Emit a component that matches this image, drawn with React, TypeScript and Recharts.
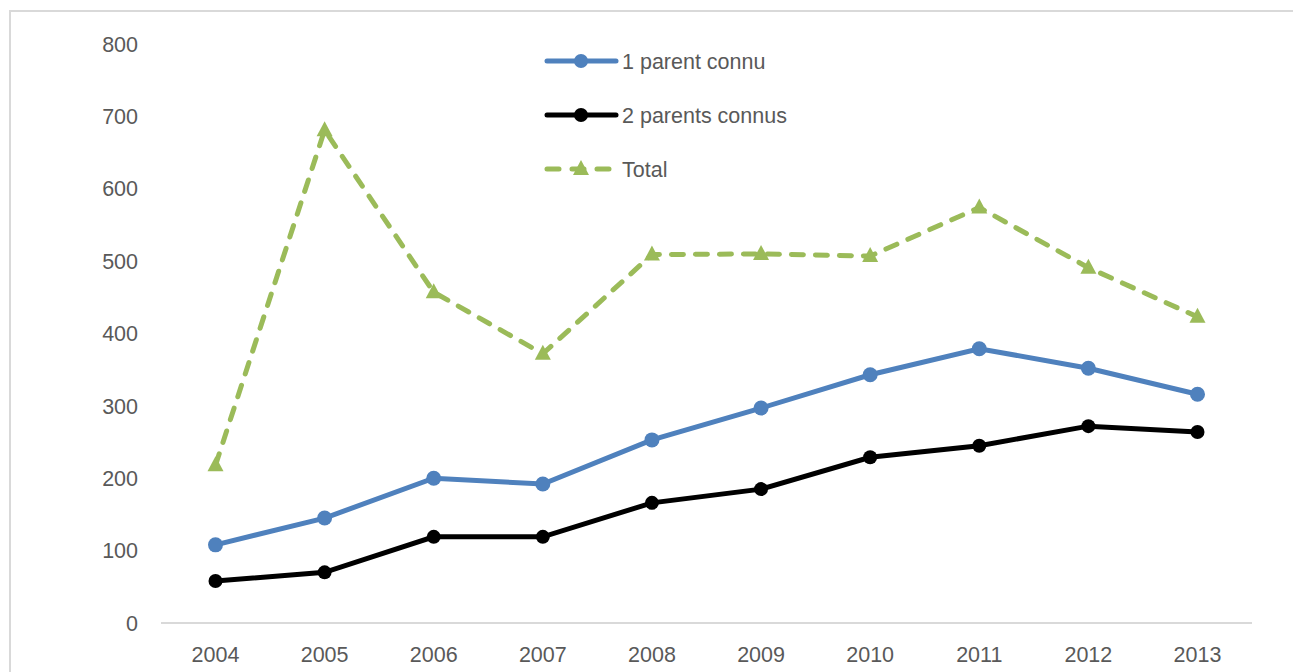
import { LineChart, Line, XAxis, YAxis } from "recharts"

// Années
const years = ["2004", "2005", "2006", "2007", "2008", "2009", "2010", "2011", "2012", "2013"]

// Séries
const unParentConnu = [108, 145, 200, 192, 253, 297, 343, 379, 352, 316]
const deuxParentsConnus = [58, 70, 119, 119, 166, 185, 229, 245, 272, 264]
const total = [218, 681, 457, 372, 509, 510, 507, 574, 491, 423]

const yTicks = [0, 100, 200, 300, 400, 500, 600, 700, 800]

const data = years.map((year, i) => ({
  year,
  unParent: unParentConnu[i],
  deuxParents: deuxParentsConnus[i],
  total: total[i],
}))

const BLUE = "#4F81BD"
const BLACK = "#000000"
const GREEN = "#9BBB59"
const TEXT = "#595959"
const FONT = "'Liberation Sans', Arial, sans-serif"

const TriangleDot = (props: any) => {
  const { cx, cy, index } = props
  if (cx == null || cy == null) return null
  return (
    <polygon
      key={`tri-${index}`}
      points={`${cx},${cy - 9} ${cx + 8},${cy + 6} ${cx - 8},${cy + 6}`}
      fill={GREEN}
    />
  )
}

const legendItems = [
  { label: "1 parent connu", color: BLUE, dashed: false, marker: "circle" },
  { label: "2 parents connus", color: BLACK, dashed: false, marker: "circle" },
  { label: "Total", color: GREEN, dashed: true, marker: "triangle" },
]

// légende dessinée à part pour ne pas réduire la zone du graphique
const CustomLegend = () => (
  <svg width={270} height={150}>
    {legendItems.map((item, i) => {
      const y = 16 + i * 54
      return (
        <g key={item.label}>
          <line
            x1={3}
            x2={72}
            y1={y}
            y2={y}
            stroke={item.color}
            strokeWidth={5}
            strokeLinecap="round"
            strokeDasharray={item.dashed ? "12 13" : undefined}
          />
          {item.marker === "circle" ? (
            <circle cx={37} cy={y} r={7} fill={item.color} />
          ) : (
            <polygon points={`37,${y - 9} 45,${y + 6} 29,${y + 6}`} fill={item.color} />
          )}
          <text x={78} y={y} dy="0.35em" fontSize={21.5} fill={TEXT} fontFamily={FONT}>
            {item.label}
          </text>
        </g>
      )
    })}
  </svg>
)

export default function App() {
  return (
    <div style={{ position: "absolute", left: 0, top: 0, width: 1293, height: 672, background: "#fff", overflow: "hidden" }}>
      <div
        style={{
          position: "absolute",
          left: 9,
          top: 10,
          width: 1320,
          height: 720,
          border: "2px solid #d9d9d9",
        }}
      />
      <div style={{ position: "absolute", left: 0, top: 0 }}>
        <LineChart
          width={1293}
          height={672}
          data={data}
          margin={{ top: 44, right: 41, bottom: 19, left: 101 }}
        >
          <XAxis
            dataKey="year"
            padding={{ left: 54.5, right: 54.5 }}
            axisLine={{ stroke: "#d9d9d9", strokeWidth: 2 }}
            tickLine={false}
            tickSize={0}
            tickMargin={24}
            height={30}
            tick={{ fill: TEXT, fontSize: 21.5, fontFamily: FONT }}
            interval={0}
          />
          <YAxis
            domain={[0, 800]}
            ticks={yTicks}
            width={60}
            axisLine={false}
            tickLine={false}
            tickSize={0}
            tickMargin={23}
            tick={{ fill: TEXT, fontSize: 21.5, fontFamily: FONT }}
            interval={0}
          />
          <Line
            dataKey="unParent"
            name="1 parent connu"
            stroke={BLUE}
            strokeWidth={5}
            dot={{ r: 7.5, fill: BLUE, stroke: BLUE, strokeWidth: 0 }}
            isAnimationActive={false}
          />
          <Line
            dataKey="deuxParents"
            name="2 parents connus"
            stroke={BLACK}
            strokeWidth={5}
            dot={{ r: 7, fill: BLACK, stroke: BLACK, strokeWidth: 0 }}
            isAnimationActive={false}
          />
          <Line
            dataKey="total"
            name="Total"
            stroke={GREEN}
            strokeWidth={5}
            strokeDasharray="12 12"
            strokeLinecap="round"
            dot={<TriangleDot />}
            isAnimationActive={false}
          />
        </LineChart>
      </div>
      <div style={{ position: "absolute", left: 544, top: 45 }}>
        <CustomLegend />
      </div>
    </div>
  )
}
